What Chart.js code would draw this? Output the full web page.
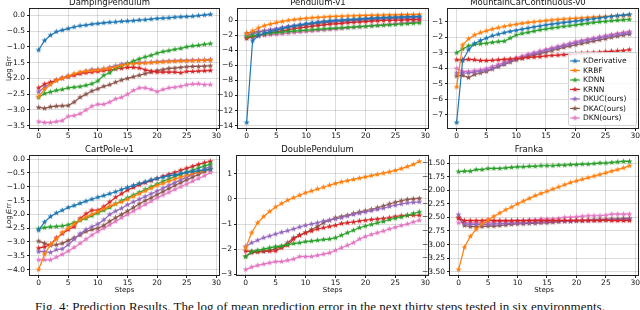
<!DOCTYPE html>
<html>
<head>
<meta charset="utf-8">
<script src="https://cdn.jsdelivr.net/npm/chart.js@4"></script>
<style>
  body { margin: 0; width: 640px; height: 310px; overflow: hidden; background: #fff; position: relative; }
  canvas { position: absolute; }
  #caption { position: absolute; left: 0; top: 300px; width: 640px; text-align: center; line-height: 13px;
             font-family: "Liberation Serif", serif; font-size: 13px; white-space: nowrap; color: #111; }
</style>
</head>
<body>
<div id="caption">Fig. 4: Prediction Results. The log of mean prediction error in the next thirty steps tested in six environments.</div>
<script>
// ---- data ----
const steps = [0,1,2,3,4,5,6,7,8,9,10,11,12,13,14,15,16,17,18,19,20,21,22,23,24,25,26,27,28,29];
const methods = ['KDerivative', 'KRBF', 'KDNN', 'KRNN', 'DKUC(ours)', 'DKAC(ours)', 'DKN(ours)'];
const envNames = ['DampingPendulum', 'Pendulum-v1', 'MountainCarContinuous-v0', 'CartPole-v1', 'DoublePendulum', 'Franka'];

// each environment: one row per method, in the order of `methods` (null = not reported)
const dampingPendulum = [
  [-1.1,-0.8,-0.63,-0.52,-0.47,-0.42,-0.37,-0.33,-0.31,-0.28,-0.26,-0.24,-0.22,-0.21,-0.19,-0.18,-0.17,-0.15,-0.14,-0.12,-0.1,-0.09,-0.08,-0.06,-0.05,-0.04,-0.03,-0.01,0.01,0.03],
  [-2.58,-2.35,-2.2,-2.07,-2.0,-1.93,-1.85,-1.8,-1.77,-1.75,-1.73,-1.7,-1.67,-1.63,-1.58,-1.55,-1.53,-1.52,-1.51,-1.5,-1.49,-1.48,-1.47,-1.46,-1.45,-1.45,-1.44,-1.44,-1.43,-1.43],
  [-2.6,-2.48,-2.43,-2.38,-2.35,-2.3,-2.28,-2.26,-2.22,-2.17,-2.08,-1.9,-1.82,-1.68,-1.6,-1.53,-1.45,-1.38,-1.32,-1.27,-1.2,-1.15,-1.12,-1.08,-1.05,-1.0,-0.97,-0.95,-0.92,-0.9],
  [-2.3,-2.18,-2.12,-2.06,-2.0,-1.95,-1.9,-1.85,-1.82,-1.8,-1.78,-1.75,-1.73,-1.7,-1.68,-1.65,-1.65,-1.67,-1.73,-1.77,-1.8,-1.8,-1.8,-1.8,-1.82,-1.78,-1.78,-1.77,-1.76,-1.75],
  [-2.43,-2.28,-2.15,-2.05,-1.98,-1.92,-1.88,-1.83,-1.77,-1.72,-1.72,-1.7,-1.65,-1.6,-1.55,-1.52,-1.5,-1.5,-1.5,-1.49,-1.47,-1.46,-1.45,-1.44,-1.43,-1.43,-1.42,-1.42,-1.41,-1.4],
  [-2.92,-2.95,-2.9,-2.88,-2.87,-2.86,-2.75,-2.6,-2.5,-2.4,-2.33,-2.25,-2.2,-2.12,-2.05,-2.0,-1.95,-1.9,-1.85,-1.8,-1.75,-1.72,-1.68,-1.67,-1.65,-1.63,-1.62,-1.62,-1.61,-1.6],
  [-3.37,-3.4,-3.4,-3.37,-3.34,-3.2,-3.18,-3.12,-3.0,-2.88,-2.82,-2.82,-2.75,-2.65,-2.6,-2.5,-2.38,-2.3,-2.3,-2.35,-2.42,-2.35,-2.3,-2.28,-2.25,-2.2,-2.18,-2.17,-2.2,-2.2]
];
const pendulum = [
  [-13.6,-2.7,-2.0,-1.7,-1.5,-1.3,-1.1,-0.9,-0.75,-0.6,-0.45,-0.35,-0.25,-0.15,-0.05,0.0,0.05,0.1,0.15,0.2,0.25,0.3,0.35,0.38,0.42,0.45,0.48,0.5,0.52,0.55],
  [-1.8,-1.4,-1.0,-0.7,-0.5,-0.3,-0.15,0.0,0.1,0.2,0.28,0.35,0.4,0.45,0.5,0.53,0.56,0.59,0.62,0.64,0.66,0.68,0.7,0.72,0.73,0.75,0.76,0.78,0.79,0.8],
  [-2.2,-2.05,-1.92,-1.82,-1.73,-1.65,-1.57,-1.5,-1.43,-1.37,-1.31,-1.25,-1.19,-1.13,-1.08,-1.03,-0.98,-0.93,-0.88,-0.83,-0.78,-0.73,-0.68,-0.63,-0.58,-0.53,-0.48,-0.43,-0.37,-0.32],
  [-2.4,-2.2,-2.0,-1.8,-1.65,-1.5,-1.4,-1.25,-1.1,-1.0,-0.9,-0.8,-0.7,-0.6,-0.5,-0.45,-0.4,-0.3,-0.25,-0.2,-0.15,-0.1,-0.05,0.0,0.0,0.05,0.05,0.1,0.1,0.12],
  [-2.0,-1.8,-1.6,-1.4,-1.25,-1.1,-0.95,-0.8,-0.7,-0.6,-0.5,-0.4,-0.3,-0.2,-0.15,-0.1,-0.05,0.0,0.05,0.1,0.15,0.2,0.25,0.28,0.3,0.32,0.34,0.36,0.38,0.4],
  [-1.7,-1.6,-1.5,-1.4,-1.3,-1.2,-1.05,-0.9,-0.8,-0.7,-0.6,-0.5,-0.4,-0.3,-0.22,-0.16,-0.1,-0.05,0.0,0.05,0.1,0.15,0.2,0.24,0.27,0.3,0.32,0.34,0.36,0.38],
  [-2.3,-2.2,-2.1,-2.0,-1.92,-1.85,-1.78,-1.7,-1.62,-1.55,-1.48,-1.42,-1.35,-1.28,-1.22,-1.15,-1.08,-1.0,-0.93,-0.86,-0.8,-0.73,-0.66,-0.6,-0.53,-0.45,-0.38,-0.3,-0.22,-0.12]
];
const mountainCar = [
  [-7.5,-3.5,-2.8,-2.4,-2.2,-2.05,-1.9,-1.8,-1.7,-1.62,-1.55,-1.47,-1.4,-1.33,-1.27,-1.2,-1.15,-1.1,-1.05,-1.0,-0.95,-0.9,-0.85,-0.8,-0.75,-0.7,-0.65,-0.6,-0.57,-0.52],
  [-5.2,-2.5,-2.1,-1.85,-1.7,-1.58,-1.47,-1.38,-1.3,-1.22,-1.16,-1.1,-1.05,-1.0,-0.96,-0.92,-0.88,-0.85,-0.82,-0.8,-0.77,-0.75,-0.72,-0.7,-0.68,-0.66,-0.64,-0.62,-0.6,-0.58],
  [-3.0,-2.75,-2.55,-2.45,-2.42,-2.38,-2.33,-2.28,-2.25,-2.05,-1.85,-1.75,-1.68,-1.6,-1.52,-1.46,-1.4,-1.35,-1.3,-1.25,-1.2,-1.15,-1.1,-1.05,-1.0,-0.97,-0.93,-0.9,-0.87,-0.85],
  [-3.45,-3.45,-3.42,-3.45,-3.5,-3.5,-3.48,-3.45,-3.42,-3.4,-3.38,-3.35,-3.3,-3.28,-3.25,-3.2,-3.17,-3.15,-3.12,-3.1,-3.05,-3.02,-3.0,-2.98,-2.96,-2.93,-2.9,-2.88,-2.85,-2.8],
  [-4.3,-4.3,-4.3,-4.25,-4.2,-4.12,-4.0,-3.85,-3.7,-3.55,-3.42,-3.3,-3.18,-3.07,-2.96,-2.85,-2.75,-2.65,-2.55,-2.45,-2.35,-2.27,-2.19,-2.11,-2.03,-1.96,-1.89,-1.82,-1.76,-1.7],
  [-4.5,-4.45,-4.6,-4.4,-4.3,-4.2,-4.05,-3.9,-3.75,-3.6,-3.45,-3.35,-3.25,-3.15,-3.05,-2.95,-2.85,-2.75,-2.65,-2.57,-2.48,-2.4,-2.32,-2.24,-2.16,-2.08,-2.0,-1.93,-1.86,-1.8],
  [-4.0,-4.2,-4.2,-4.15,-4.1,-4.0,-3.88,-3.75,-3.6,-3.45,-3.32,-3.2,-3.08,-2.98,-2.88,-2.78,-2.68,-2.58,-2.48,-2.38,-2.28,-2.2,-2.12,-2.04,-1.96,-1.88,-1.81,-1.74,-1.68,-1.62]
];
const cartPole = [
  [-2.57,-2.28,-2.08,-1.95,-1.85,-1.75,-1.68,-1.6,-1.52,-1.45,-1.38,-1.32,-1.25,-1.18,-1.1,-1.02,-0.95,-0.88,-0.82,-0.75,-0.7,-0.65,-0.6,-0.57,-0.52,-0.48,-0.45,-0.42,-0.4,-0.37],
  [-4.0,-3.45,-3.1,-2.9,-2.65,-2.5,-2.35,-2.2,-2.1,-2.0,-1.9,-1.8,-1.7,-1.62,-1.55,-1.45,-1.35,-1.25,-1.15,-1.05,-0.95,-0.88,-0.8,-0.72,-0.65,-0.58,-0.52,-0.47,-0.42,-0.37],
  [-2.52,-2.48,-2.45,-2.44,-2.42,-2.38,-2.3,-2.22,-2.15,-2.05,-1.95,-1.85,-1.75,-1.62,-1.5,-1.4,-1.3,-1.2,-1.1,-1.0,-0.9,-0.8,-0.72,-0.62,-0.55,-0.47,-0.4,-0.32,-0.25,-0.18],
  [-3.22,-3.18,-3.1,-2.85,-2.7,-2.55,-2.45,-2.15,-1.98,-1.85,-1.85,-1.72,-1.55,-1.38,-1.25,-1.12,-1.02,-0.93,-0.85,-0.78,-0.7,-0.62,-0.55,-0.48,-0.4,-0.33,-0.26,-0.19,-0.13,-0.08],
  [-3.35,-3.35,-3.38,-3.28,-3.25,-3.1,-2.9,-2.7,-2.55,-2.45,-2.35,-2.2,-2.0,-1.88,-1.78,-1.65,-1.55,-1.45,-1.35,-1.25,-1.15,-1.05,-0.95,-0.85,-0.75,-0.65,-0.55,-0.45,-0.35,-0.27],
  [-2.97,-3.05,-3.12,-3.1,-3.05,-2.95,-2.85,-2.75,-2.62,-2.55,-2.5,-2.4,-2.25,-2.12,-2.0,-1.88,-1.75,-1.62,-1.5,-1.4,-1.28,-1.17,-1.06,-0.95,-0.85,-0.75,-0.65,-0.55,-0.45,-0.35],
  [-3.65,-3.65,-3.65,-3.55,-3.45,-3.33,-3.2,-3.05,-2.9,-2.75,-2.62,-2.5,-2.38,-2.25,-2.12,-2.0,-1.88,-1.76,-1.64,-1.52,-1.4,-1.3,-1.2,-1.1,-1.0,-0.9,-0.8,-0.7,-0.6,-0.48]
];
const doublePendulum = [
  null,
  [-1.95,-1.35,-0.95,-0.7,-0.5,-0.32,-0.18,-0.05,0.05,0.15,0.25,0.32,0.4,0.47,0.55,0.62,0.68,0.73,0.78,0.83,0.88,0.93,0.98,1.03,1.08,1.14,1.21,1.29,1.38,1.5],
  [-2.3,-2.1,-2.05,-2.0,-1.95,-1.9,-1.88,-1.82,-1.78,-1.75,-1.7,-1.68,-1.65,-1.62,-1.6,-1.55,-1.45,-1.35,-1.25,-1.15,-1.08,-1.02,-0.95,-0.9,-0.82,-0.77,-0.72,-0.65,-0.58,-0.52],
  [-2.08,-2.1,-2.1,-2.07,-2.08,-2.07,-1.95,-1.85,-1.6,-1.45,-1.35,-1.28,-1.2,-1.15,-1.1,-1.05,-0.98,-0.95,-0.92,-0.88,-0.85,-0.82,-0.8,-0.78,-0.75,-0.7,-0.67,-0.66,-0.65,-0.65],
  [-1.9,-1.75,-1.65,-1.55,-1.48,-1.4,-1.33,-1.27,-1.2,-1.12,-1.05,-1.0,-0.95,-0.88,-0.85,-0.8,-0.75,-0.68,-0.62,-0.57,-0.52,-0.47,-0.42,-0.37,-0.3,-0.25,-0.2,-0.16,-0.14,-0.12],
  [-2.3,-2.15,-2.12,-2.1,-2.05,-1.98,-1.9,-1.75,-1.55,-1.45,-1.35,-1.22,-1.1,-0.95,-0.85,-0.75,-0.7,-0.65,-0.58,-0.52,-0.47,-0.42,-0.35,-0.28,-0.2,-0.13,-0.07,-0.02,0.0,0.02],
  [-2.82,-2.72,-2.65,-2.6,-2.55,-2.5,-2.5,-2.45,-2.4,-2.3,-2.3,-2.3,-2.25,-2.2,-2.15,-2.05,-1.95,-1.85,-1.75,-1.6,-1.5,-1.42,-1.35,-1.28,-1.2,-1.13,-1.06,-1.0,-0.92,-0.85]
];
const franka = [
  null,
  [-3.46,-3.05,-2.85,-2.72,-2.62,-2.55,-2.48,-2.42,-2.36,-2.31,-2.25,-2.2,-2.15,-2.1,-2.06,-2.02,-1.98,-1.94,-1.9,-1.86,-1.83,-1.8,-1.77,-1.74,-1.71,-1.68,-1.65,-1.62,-1.59,-1.55],
  [-1.66,-1.65,-1.65,-1.62,-1.62,-1.6,-1.6,-1.6,-1.59,-1.58,-1.57,-1.57,-1.56,-1.56,-1.55,-1.55,-1.55,-1.54,-1.54,-1.53,-1.53,-1.52,-1.52,-1.51,-1.5,-1.5,-1.49,-1.48,-1.47,-1.47],
  [-2.52,-2.56,-2.56,-2.56,-2.56,-2.55,-2.56,-2.56,-2.56,-2.56,-2.56,-2.56,-2.56,-2.56,-2.56,-2.56,-2.56,-2.56,-2.56,-2.56,-2.56,-2.56,-2.56,-2.56,-2.56,-2.55,-2.56,-2.56,-2.56,-2.56],
  [-2.45,-2.62,-2.63,-2.63,-2.63,-2.63,-2.62,-2.62,-2.61,-2.61,-2.6,-2.6,-2.6,-2.59,-2.59,-2.58,-2.58,-2.57,-2.57,-2.57,-2.56,-2.56,-2.56,-2.55,-2.55,-2.55,-2.54,-2.54,-2.54,-2.53],
  [-2.5,-2.65,-2.67,-2.67,-2.67,-2.66,-2.66,-2.65,-2.64,-2.63,-2.62,-2.62,-2.61,-2.61,-2.6,-2.6,-2.59,-2.58,-2.57,-2.57,-2.56,-2.56,-2.55,-2.55,-2.54,-2.54,-2.53,-2.53,-2.52,-2.52],
  [-2.6,-2.6,-2.6,-2.6,-2.6,-2.59,-2.58,-2.58,-2.57,-2.57,-2.56,-2.56,-2.55,-2.55,-2.53,-2.53,-2.53,-2.52,-2.5,-2.5,-2.49,-2.48,-2.47,-2.47,-2.47,-2.46,-2.44,-2.44,-2.44,-2.44]
];

// tick labels
const xTickLabels = ['0', '5', '10', '15', '20', '25', '30'];
const dampingTicks = ['0.0', '−0.5', '−1.0', '−1.5', '−2.0', '−2.5', '−3.0', '−3.5'];
const pendulumTicks = ['0', '−2', '−4', '−6', '−8', '−10', '−12', '−14'];
const mountainTicks = ['−1', '−2', '−3', '−4', '−5', '−6', '−7'];
const cartPoleTicks = ['0.0', '−0.5', '−1.0', '−1.5', '−2.0', '−2.5', '−3.0', '−3.5', '−4.0'];
const doubleTicks = ['1', '0', '−1', '−2', '−3'];
const frankaTicks = ['−1.50', '−1.75', '−2.00', '−2.25', '−2.50', '−2.75', '−3.00', '−3.25', '−3.50'];

const envData = [dampingPendulum, pendulum, mountainCar, cartPole, doublePendulum, franka];
const envTicks = [dampingTicks, pendulumTicks, mountainTicks, cartPoleTicks, doubleTicks, frankaTicks];

// ---- styling / layout ----
const colors = ['#1f77b4', '#ff7f0e', '#2ca02c', '#d62728', '#9467bd', '#8c564b', '#e377c2'];
// plot-area boxes in page pixels: [left, top, right, bottom]
const boxes = [
  [30, 9, 219, 128], [238, 9, 428, 128], [448, 9, 638, 128],
  [30, 156, 219, 275], [237, 156, 428, 275], [450, 156, 638, 275]
];
const Y_AXIS_W = 30, TITLE_H = 12, RIGHT_PAD = 6;

const num = s => parseFloat(s.replace('−', '-'));

function starImage(color) {
  const c = document.createElement('canvas');
  c.width = c.height = 7;
  const g = c.getContext('2d');
  g.fillStyle = color;
  g.beginPath();
  for (let i = 0; i < 10; i++) {
    const r = i % 2 ? 1.3 : 3.2;
    const a = -Math.PI / 2 + i * Math.PI / 5;
    g.lineTo(3.5 + r * Math.cos(a), 3.5 + r * Math.sin(a));
  }
  g.closePath();
  g.fill();
  return c;
}
const stars = colors.map(starImage);

const frame = {
  id: 'frame',
  afterDraw(chart) {
    const a = chart.chartArea, g = chart.ctx;
    g.save();
    g.strokeStyle = '#222';
    g.lineWidth = 1;
    g.strokeRect(Math.round(a.left) - 0.5, Math.round(a.top) - 0.5,
                 Math.round(a.right - a.left) + 1, Math.round(a.bottom - a.top) + 1);
    g.restore();
  }
};

const legendBox = {
  id: 'legendBox',
  afterDraw(chart) {
    const a = chart.chartArea, g = chart.ctx;
    const w = 68, h = 73, x = a.right - w - 2, y = a.bottom - h - 3;
    g.save();
    g.beginPath();
    g.roundRect(x + 0.5, y + 0.5, w, h, 2);
    g.fillStyle = 'rgba(255,255,255,0.85)';
    g.fill();
    g.strokeStyle = '#d0d0d0';
    g.lineWidth = 1;
    g.stroke();
    g.font = '7.5px "DejaVu Sans"';
    g.textBaseline = 'middle';
    methods.forEach((name, k) => {
      const cy = y + 9 + k * 9.5;
      g.strokeStyle = colors[k];
      g.lineWidth = 1.1;
      g.beginPath();
      g.moveTo(x + 2, cy);
      g.lineTo(x + 12, cy);
      g.stroke();
      g.drawImage(stars[k], x + 7 - 3.5, cy - 3.5);
      g.fillStyle = '#111';
      g.fillText(name, x + 15, cy + 0.5);
    });
    g.restore();
  }
};

function makeChart(i) {
  const [l, t, r, b] = boxes[i];
  const bottomRow = i >= 3;
  const xH = bottomRow ? 22 : 14;
  const cw = Y_AXIS_W + (r - l) + RIGHT_PAD;
  const ch = TITLE_H + (b - t) + xH;
  const cv = document.createElement('canvas');
  cv.width = cw; cv.height = ch;
  cv.style.left = (l - Y_AXIS_W) + 'px';
  cv.style.top = (t - TITLE_H) + 'px';
  cv.style.width = cw + 'px';
  cv.style.height = ch + 'px';
  document.body.appendChild(cv);

  const series = envData[i];
  const all = series.filter(s => s).flat();
  const lo = Math.min(...all), hi = Math.max(...all), m = (hi - lo) * 0.05;
  const yLabels = envTicks[i];

  const tickFont = { family: 'DejaVu Sans', size: 7.5 };
  const gridStyle = {
    color: 'rgba(0,0,0,0.17)', lineWidth: 0.8, borderDash: [3, 2],
    drawTicks: true, tickLength: 3, tickColor: '#222', tickWidth: 1, tickBorderDash: []
  };

  new Chart(cv, {
    type: 'line',
    data: {
      datasets: methods.map((name, k) => ({
        label: name,
        data: series[k] ? series[k].map((v, j) => ({ x: steps[j], y: v })) : [],
        borderColor: colors[k],
        backgroundColor: colors[k],
        borderWidth: 1.2,
        pointStyle: stars[k],
        pointRadius: 3,
        pointHoverRadius: 3,
        tension: 0,
        fill: false
      }))
    },
    options: {
      responsive: false,
      animation: false,
      events: [],
      layout: { padding: { right: RIGHT_PAD } },
      plugins: {
        legend: { display: false },
        tooltip: { enabled: false },
        title: {
          display: true,
          text: envNames[i],
          color: '#111',
          font: { family: 'DejaVu Sans', size: 8.5, weight: 'normal', lineHeight: '10px' },
          padding: { top: 1, bottom: 1 }
        }
      },
      scales: {
        x: {
          type: 'linear',
          min: -1.45,
          max: 30.45,
          afterBuildTicks: s => { s.ticks = xTickLabels.map(v => ({ value: num(v) })); },
          afterFit: s => { s.height = xH; },
          ticks: { color: '#111', font: tickFont, padding: 1, maxRotation: 0,
                   callback: v => String(v) },
          grid: gridStyle,
          border: { display: false },
          title: {
            display: bottomRow,
            text: 'Steps',
            color: '#111',
            font: { family: 'DejaVu Sans', size: 7, lineHeight: '8px' },
            padding: 3
          }
        },
        y: {
          min: lo - m,
          max: hi + m,
          afterBuildTicks: s => { s.ticks = yLabels.map(v => ({ value: num(v) })); },
          afterFit: s => { s.width = Y_AXIS_W; },
          ticks: { color: '#111', font: tickFont, padding: 2,
                   callback: (v, idx) => yLabels[idx] },
          grid: gridStyle,
          border: { display: false },
          title: {
            display: i === 0 || i === 3,
            text: 'Log Err',
            color: '#111',
            font: { family: 'DejaVu Sans', size: 7, lineHeight: '8px' },
            padding: 5
          }
        }
      }
    },
    plugins: i === 2 ? [frame, legendBox] : [frame]
  });
}

for (let i = 0; i < 6; i++) makeChart(i);
</script>
</body>
</html>
